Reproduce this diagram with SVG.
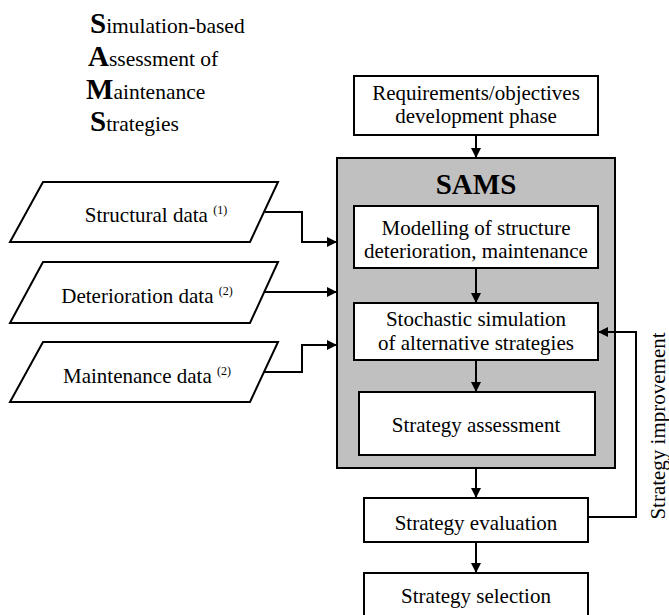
<svg xmlns="http://www.w3.org/2000/svg" width="669" height="615" viewBox="0 0 669 615">
  <defs>
    <marker id="arrow" viewBox="0 0 10 10" refX="10" refY="5" markerWidth="10" markerHeight="10" markerUnits="userSpaceOnUse" orient="auto">
      <path d="M0,0 L10,5 L0,10 z" fill="#000"/>
    </marker>
    <style>
      text { font-family: "Liberation Serif", "Times New Roman", serif; fill: #000; }
      .lbl { font-size: 21px; text-anchor: middle; }
      .sup { font-size: 12px; }
      .box { fill: #fff; stroke: #000; stroke-width: 2; }
      .data { fill: #fff; stroke: #000; stroke-width: 2; stroke-linejoin: miter; }
      .conn { fill: none; stroke: #000; stroke-width: 2; marker-end: url(#arrow); }
      .cap { font-size: 29px; font-weight: bold; }
      .acr { font-size: 21.5px; }
    </style>
  </defs>

  <!-- acronym legend -->
  <g id="legend">
    <text x="90" y="33" class="acr"><tspan class="cap">S</tspan>imulation-based</text>
    <text x="88" y="66" class="acr"><tspan class="cap">A</tspan>ssessment of</text>
    <text x="86" y="99" class="acr"><tspan class="cap">M</tspan>aintenance</text>
    <text x="90" y="131" class="acr"><tspan class="cap">S</tspan>trategies</text>
  </g>

  <!-- SAMS container -->
  <g id="sams">
    <rect x="337" y="158" width="278" height="310" fill="#c0c0c0" stroke="#000" stroke-width="2"/>
    <text x="476" y="194" font-size="29" font-weight="bold" text-anchor="middle">SAMS</text>
  </g>

  <g id="requirements">
    <rect class="box" x="354" y="76" width="244" height="59"/>
    <text class="lbl" x="476" y="100">Requirements/objectives</text>
    <text class="lbl" x="476" y="123">development phase</text>
  </g>

  <g id="modelling">
    <rect class="box" x="354" y="206" width="244" height="62"/>
    <text class="lbl" x="476" y="235">Modelling of structure</text>
    <text class="lbl" x="476" y="258">deterioration, maintenance</text>
  </g>

  <g id="simulation">
    <rect class="box" x="354" y="303" width="244" height="57"/>
    <text class="lbl" x="476" y="326">Stochastic simulation</text>
    <text class="lbl" x="476" y="350">of alternative strategies</text>
  </g>

  <g id="assessment">
    <rect class="box" x="359" y="392" width="236" height="63"/>
    <text class="lbl" x="476" y="432">Strategy assessment</text>
  </g>

  <g id="evaluation">
    <rect class="box" x="364" y="498" width="224" height="44"/>
    <text class="lbl" x="476" y="530">Strategy evaluation</text>
  </g>

  <g id="selection">
    <rect class="box" x="364" y="573" width="224" height="48"/>
    <text class="lbl" x="476" y="603">Strategy selection</text>
  </g>

  <g id="structural-data">
    <polygon class="data" points="43,182 278,182 250,242 10,242"/>
    <text class="lbl" x="156" y="222">Structural data <tspan class="sup" dy="-8">(1)</tspan></text>
  </g>

  <g id="deterioration-data">
    <polygon class="data" points="43,262 278,262 250,323 10,323"/>
    <text class="lbl" x="147" y="303">Deterioration data <tspan class="sup" dy="-8">(2)</tspan></text>
  </g>

  <g id="maintenance-data">
    <polygon class="data" points="43,342 278,342 250,402 10,402"/>
    <text class="lbl" x="147" y="383">Maintenance data <tspan class="sup" dy="-8">(2)</tspan></text>
  </g>

  <text id="improvement-label" class="lbl" transform="translate(665,426) rotate(-90)">Strategy improvement</text>

  <!-- connectors -->
  <g id="connectors">
    <path class="conn" d="M476,135 V158"/>
    <path class="conn" d="M476,268 V303"/>
    <path class="conn" d="M476,360 V392"/>
    <path class="conn" d="M476,468 V498"/>
    <path class="conn" d="M476,542 V573"/>
    <path class="conn" d="M265,212 H302 V242 H337"/>
    <path class="conn" d="M264,292 H337"/>
    <path class="conn" d="M264,372 H302 V345 H337"/>
    <path class="conn" d="M588,517 H636 V332 H598"/>
  </g>
</svg>
